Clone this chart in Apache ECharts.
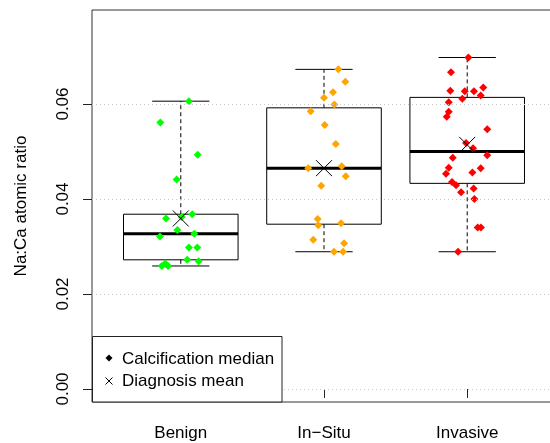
<!DOCTYPE html>
<html><head><meta charset="utf-8">
<script src="https://cdn.jsdelivr.net/npm/echarts@6/dist/echarts.min.js"></script>
<style>html,body{margin:0;padding:0;background:#fff}#c{width:550px;height:443px}</style>
</head><body><div id="c"></div>
<script>
// ---- data ----
const categories = ['Benign', 'In\u2212Situ', 'Invasive'];
const yTicks = [0, 0.02, 0.04, 0.06];
const boxLow    = [0.0259, 0.0289, 0.0289];
const boxQ1     = [0.0272, 0.0347, 0.0433];
const boxMedian = [0.0327, 0.0465, 0.0500];
const boxQ3     = [0.0368, 0.0592, 0.0614];
const boxHigh   = [0.0606, 0.0673, 0.0698];
const diagnosisMean = [0.0359, 0.0465, 0.0514];

const benignValues = [0.0606,0.0561,0.0493,0.0441,0.0368,0.0359,0.0362,0.0335,0.0327,0.0321,0.0298,0.0298,0.0272,0.0269,0.0259,0.0264,0.0259];
const benignJitter = [0.057,-0.143,0.118,-0.029,0.080,-0.103,0.006,-0.024,0.094,-0.145,0.057,0.115,0.045,0.125,-0.133,-0.108,-0.089];
const inSituValues = [0.0673,0.0647,0.0625,0.0613,0.0599,0.0585,0.0556,0.0516,0.0465,0.0469,0.0448,0.0428,0.0358,0.0345,0.0349,0.0314,0.0307,0.0289,0.0289];
const inSituJitter = [0.100,0.149,0.063,0.000,0.072,-0.093,0.005,0.082,-0.110,0.124,0.152,-0.019,-0.044,-0.040,0.119,-0.075,0.140,0.070,0.133];
const invasiveValues = [0.0698,0.0667,0.0628,0.0627,0.0627,0.0635,0.0618,0.0611,0.0604,0.0584,0.0573,0.0547,0.0518,0.0507,0.0492,0.0487,0.0466,0.0465,0.0453,0.0456,0.0436,0.0429,0.0414,0.0422,0.0400,0.0340,0.0340,0.0289];
const invasiveJitter = [0.008,-0.113,-0.118,-0.017,0.047,0.112,0.094,-0.034,-0.129,-0.129,-0.143,0.140,-0.008,0.041,0.140,-0.101,-0.129,0.094,-0.148,0.036,-0.106,-0.078,-0.043,0.045,0.050,0.073,0.096,-0.064];
const groupColors = ['#00ff00', '#ffa500', '#ff0000'];
const legendLabels = ['Calcification median', 'Diagnosis mean'];

// ---- chart ----
const FONT = 'Liberation Sans, Arial, Helvetica, sans-serif';
const groups = [[benignValues, benignJitter], [inSituValues, inSituJitter], [invasiveValues, invasiveJitter]];
const chart = echarts.init(document.getElementById('c'), null, {renderer: 'canvas'});

const boxData = categories.map((c, i) => [i + 1, boxLow[i], boxQ1[i], boxMedian[i], boxQ3[i], boxHigh[i]]);

const scatterSeries = groups.map((g, gi) => ({
  type: 'scatter', name: categories[gi], z: 3,
  symbol: 'diamond', symbolSize: 8,
  itemStyle: {color: groupColors[gi], opacity: 1},
  data: g[0].map((v, k) => [gi + 1 + g[1][k], v]),
  silent: true
}));

chart.setOption({
  animation: false,
  textStyle: {fontFamily: FONT},
  grid: {left: 92, top: 10, width: 464, height: 392, outerBoundsMode: 'none', containLabel: false,
    show: true, borderColor: '#333', borderWidth: 1, backgroundColor: 'transparent'},
  xAxis: {
    type: 'value', min: 0.38, max: 3.62,
    axisLine: {show: false}, splitLine: {show: false},
    axisTick: {show: true, customValues: [1, 2, 3], length: 9, lineStyle: {color: '#222', width: 1}},
    axisLabel: {customValues: [1, 2, 3], margin: 23, fontSize: 17, color: '#000', fontFamily: FONT,
      formatter: v => categories[Math.round(v) - 1] || ''}
  },
  yAxis: {
    type: 'value', min: -0.00274, max: 0.0798,
    name: 'Na:Ca atomic ratio', nameLocation: 'middle', nameGap: 62.5, nameRotate: 90,
    nameTextStyle: {fontSize: 17, color: '#000', fontFamily: FONT},
    axisLine: {show: false}, splitLine: {show: false},
    axisTick: {show: true, customValues: yTicks, length: 9, lineStyle: {color: '#222', width: 1}},
    axisLabel: {customValues: yTicks, rotate: 90, margin: 20, fontSize: 17, color: '#000', fontFamily: FONT,
      formatter: v => v.toFixed(2)}
  },
  series: [
    {
      type: 'line', z: 1, data: [], silent: true,
      markLine: {silent: true, symbol: ['none', 'none'], label: {show: false}, animation: false,
        lineStyle: {type: [1, 3], color: '#c8c8c8', width: 1},
        data: yTicks.map(v => ({yAxis: v}))}
    },
    {
      type: 'custom', z: 2, silent: true,
      data: boxData,
      renderItem: function (params, api) {
        const x = api.value(0);
        const lo = api.value(1), q1 = api.value(2), med = api.value(3), q3 = api.value(4), hi = api.value(5);
        const c = (a, b) => api.coord([a, b]);
        const xl = c(x - 0.4, med)[0], xr = c(x + 0.4, med)[0];
        const cl = c(x - 0.2, med)[0], cr = c(x + 0.2, med)[0];
        const xc = c(x, med)[0];
        const yLo = c(x, lo)[1], yQ1 = c(x, q1)[1], yMed = c(x, med)[1], yQ3 = c(x, q3)[1], yHi = c(x, hi)[1];
        const st = {stroke: '#000', lineWidth: 1, fill: null};
        return {type: 'group', children: [
          {type: 'line', shape: {x1: xc, y1: yQ3, x2: xc, y2: yHi}, style: Object.assign({}, st, {lineDash: [4, 3]})},
          {type: 'line', shape: {x1: xc, y1: yQ1, x2: xc, y2: yLo}, style: Object.assign({}, st, {lineDash: [4, 3]})},
          {type: 'line', shape: {x1: cl, y1: yHi, x2: cr, y2: yHi}, style: st},
          {type: 'line', shape: {x1: cl, y1: yLo, x2: cr, y2: yLo}, style: st},
          {type: 'rect', shape: {x: xl, y: yQ3, width: xr - xl, height: yQ1 - yQ3}, style: st},
          {type: 'line', shape: {x1: xl, y1: yMed, x2: xr, y2: yMed}, style: {stroke: '#000', lineWidth: 3}}
        ]};
      }
    },
    ...scatterSeries,
    {
      type: 'custom', z: 4, silent: true,
      data: diagnosisMean.map((v, i) => [i + 1, v]),
      renderItem: function (params, api) {
        const p = api.coord([api.value(0), api.value(1)]);
        const h = 8;
        const st = {stroke: '#000', lineWidth: 1};
        return {type: 'group', children: [
          {type: 'line', shape: {x1: p[0] - h, y1: p[1] - h, x2: p[0] + h, y2: p[1] + h}, style: st},
          {type: 'line', shape: {x1: p[0] - h, y1: p[1] + h, x2: p[0] + h, y2: p[1] - h}, style: st}
        ]};
      }
    }
  ],
  graphic: [
    {type: 'rect', z: 100, shape: {x: 92.5, y: 336.5, width: 189.5, height: 65.5},
      style: {fill: '#fff', stroke: '#222', lineWidth: 1}},
    {type: 'polygon', z: 101, shape: {points: [[109, 354.5], [112.5, 358], [109, 361.5], [105.5, 358]]},
      style: {fill: '#000'}},
    {type: 'line', z: 101, shape: {x1: 105.5, y1: 377.5, x2: 112.5, y2: 384.5}, style: {stroke: '#000', lineWidth: 1}},
    {type: 'line', z: 101, shape: {x1: 105.5, y1: 384.5, x2: 112.5, y2: 377.5}, style: {stroke: '#000', lineWidth: 1}},
    {type: 'text', z: 101, style: {text: legendLabels[0], x: 122, y: 359, verticalAlign: 'middle', align: 'left',
      fontSize: 17, fontFamily: FONT, fill: '#000'}},
    {type: 'text', z: 101, style: {text: legendLabels[1], x: 122, y: 381.5, verticalAlign: 'middle', align: 'left',
      fontSize: 17, fontFamily: FONT, fill: '#000'}}
  ]
});
</script></body></html>
